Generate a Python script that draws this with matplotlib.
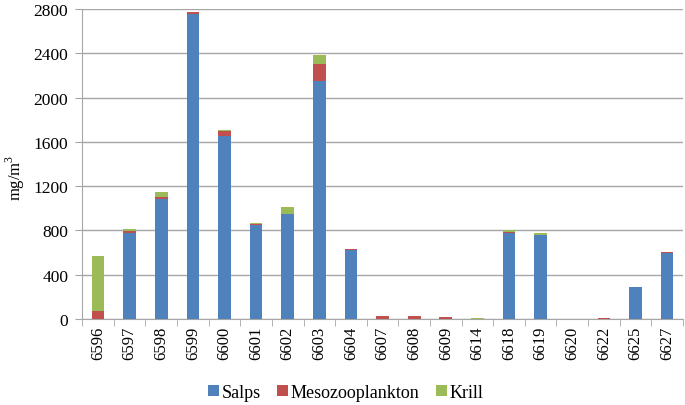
import numpy as np
import matplotlib.pyplot as plt

plt.rcParams['font.family'] = ['Liberation Serif', 'DejaVu Serif']
plt.rcParams['mathtext.fontset'] = 'custom'
plt.rcParams['mathtext.rm'] = 'Liberation Serif'

stations = ['6596', '6597', '6598', '6599', '6600', '6601', '6602', '6603', '6604',
            '6607', '6608', '6609', '6614', '6618', '6619', '6620', '6622', '6625', '6627']
salps = [0, 780, 1080, 2755, 1650, 850, 945, 2150, 625,
         0, 0, 0, 0, 780, 755, 0, 0, 285, 595]
meso = [75, 15, 25, 15, 45, 10, 5, 150, 8,
        30, 22, 18, 0, 5, 5, 0, 8, 0, 10]
krill = [495, 20, 45, 5, 10, 5, 60, 85, 0,
         0, 0, 0, 8, 15, 15, 0, 0, 5, 0]

x = np.arange(len(stations))
salps = np.array(salps)
meso = np.array(meso)
krill = np.array(krill)

fig = plt.figure(figsize=(6.85, 4.06), dpi=100)
ax = fig.add_axes([0.12, 0.212, 0.877, 0.763])

w = 0.4
ax.bar(x, salps, w, color='#4F81BD', label='Salps', zorder=3)
ax.bar(x, meso, w, bottom=salps, color='#C0504D', label='Mesozooplankton', zorder=3)
ax.bar(x, krill, w, bottom=salps + meso, color='#9BBB59', label='Krill', zorder=3)

ax.set_xlim(-0.5, len(stations) - 0.5)
ax.set_ylim(0, 2800)
ax.set_yticks(np.arange(0, 2801, 400))
ax.yaxis.grid(True, color='#A6A6A6', linewidth=1)
ax.set_axisbelow(True)

# labels centred, tick marks between categories
ax.set_xticks(x)
ax.set_xticklabels(stations, rotation=90, fontsize=12)
ax.tick_params(axis='x', length=0, pad=5)
ax.set_xticks(np.arange(-0.5, len(stations), 1), minor=True)
ax.tick_params(axis='x', which='minor', length=5, color='#A6A6A6')
ax.tick_params(axis='y', length=5, color='#A6A6A6', labelsize=12.5, pad=5)

for s in ['top', 'right']:
    ax.spines[s].set_visible(False)
ax.spines['left'].set_color('#A6A6A6')
ax.spines['bottom'].set_color('#A6A6A6')

ax.set_ylabel('mg/m$^3$', fontsize=12)
ax.yaxis.set_label_coords(-0.092, 0.46)

fig.legend(loc='lower center', ncol=3, frameon=False, fontsize=13,
           bbox_to_anchor=(0.505, -0.03), handlelength=0.6, handleheight=0.6,
           handletextpad=0.15, columnspacing=0.9)

fig.savefig('out.png', dpi=100)
